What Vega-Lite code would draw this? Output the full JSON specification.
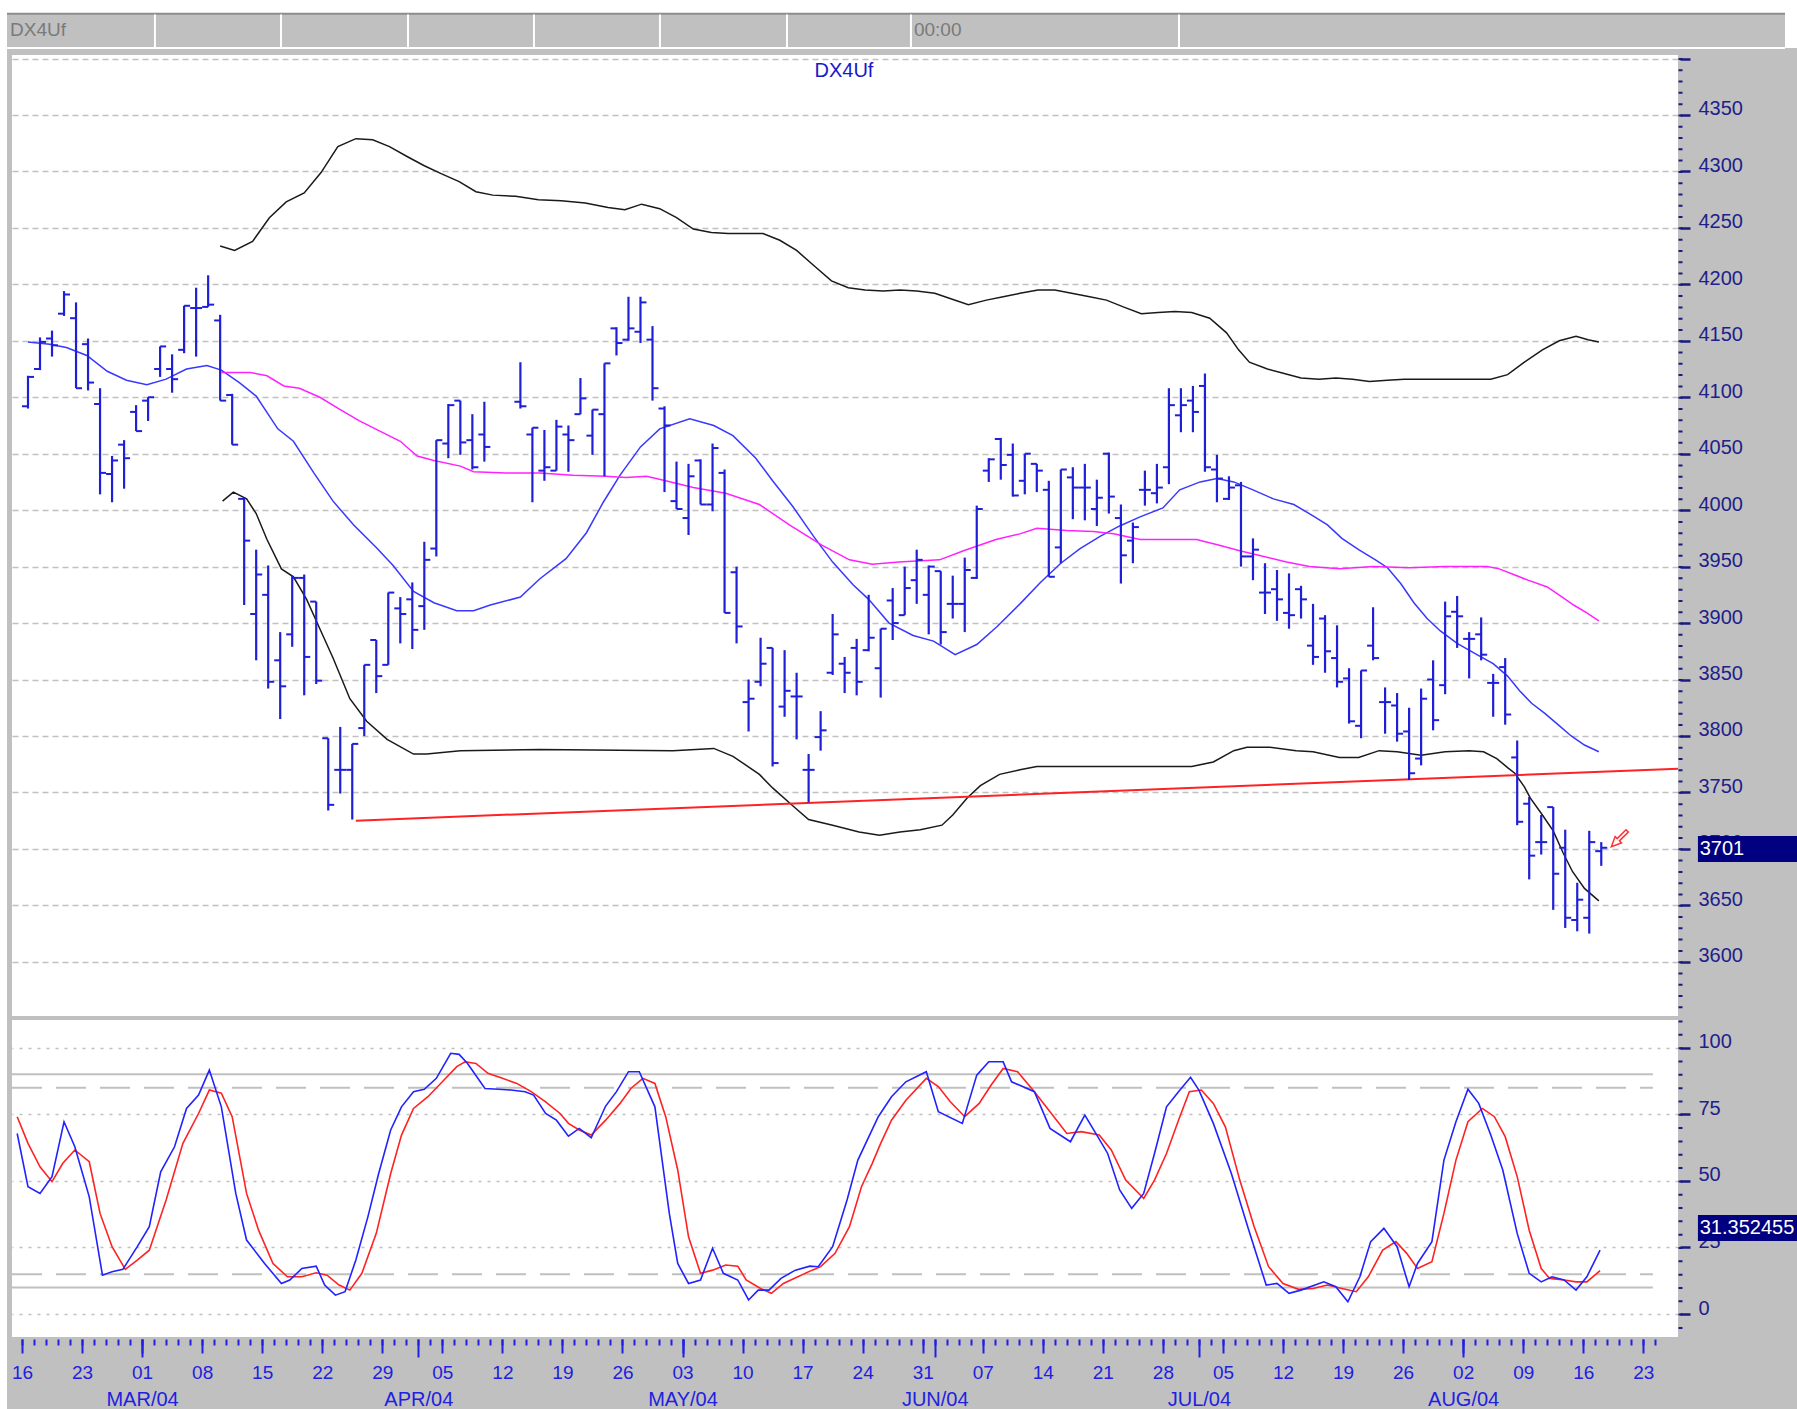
{
"$schema": "https://vega.github.io/schema/vega-lite/v6.json",
"background": "#c0c0c0",
"padding": 0,
"config": {"view": {"fill": "white", "stroke": null}, "font": "Liberation Sans"},
"datasets": {
"bars": [
{"i":0,"o":4092,"h":4119,"l":4090,"c":4118},{"i":1,"o":4125,"h":4153,"l":4124,"c":4149},{"i":2,"o":4152,"h":4159,"l":4136,"c":4146},{"i":3,"o":4174,"h":4194,"l":4172,"c":4191},{"i":4,"o":4170,"h":4184,"l":4108,"c":4108},{"i":5,"o":4147,"h":4152,"l":4106,"c":4113},{"i":6,"o":4094,"h":4108,"l":4014,"c":4033},{"i":7,"o":4032,"h":4048,"l":4007,"c":4044},{"i":8,"o":4058,"h":4062,"l":4019,"c":4046},{"i":9,"o":4087,"h":4093,"l":4070,"c":4070},
{"i":10,"o":4097,"h":4100,"l":4079,"c":4100},{"i":11,"o":4125,"h":4145,"l":4118,"c":4145},{"i":12,"o":4125,"h":4138,"l":4104,"c":4116},{"i":13,"o":4142,"h":4181,"l":4139,"c":4181},{"i":14,"o":4179,"h":4197,"l":4136,"c":4179},{"i":15,"o":4180,"h":4208,"l":4180,"c":4182},{"i":16,"o":4168,"h":4173,"l":4097,"c":4097},{"i":17,"o":4102,"h":4103,"l":4058,"c":4058},{"i":18,"o":4010,"h":4011,"l":3916,"c":3973},{"i":19,"o":3908,"h":3965,"l":3867,"c":3943},
{"i":20,"o":3925,"h":3951,"l":3842,"c":3848},{"i":21,"o":3867,"h":3892,"l":3815,"c":3844},{"i":22,"o":3890,"h":3942,"l":3879,"c":3940},{"i":23,"o":3940,"h":3943,"l":3836,"c":3870},{"i":24,"o":3919,"h":3919,"l":3846,"c":3849},{"i":25,"o":3798,"h":3798,"l":3734,"c":3739},{"i":26,"o":3770,"h":3808,"l":3749,"c":3770},{"i":27,"o":3770,"h":3793,"l":3726,"c":3793},{"i":28,"o":3807,"h":3863,"l":3800,"c":3863},{"i":29,"o":3885,"h":3885,"l":3838,"c":3853},
{"i":30,"o":3863,"h":3927,"l":3863,"c":3927},{"i":31,"o":3913,"h":3923,"l":3882,"c":3908},{"i":32,"o":3921,"h":3936,"l":3877,"c":3894},{"i":33,"o":3915,"h":3972,"l":3894,"c":3956},{"i":34,"o":3966,"h":4062,"l":3959,"c":4062},{"i":35,"o":4059,"h":4094,"l":4046,"c":4093},{"i":36,"o":4097,"h":4097,"l":4049,"c":4060},{"i":37,"o":4062,"h":4085,"l":4036,"c":4038},{"i":38,"o":4067,"h":4096,"l":4043,"c":4056},
{"i":41,"o":4096,"h":4131,"l":4090,"c":4092},{"i":42,"o":4067,"h":4073,"l":4007,"c":4073},{"i":43,"o":4035,"h":4071,"l":4026,"c":4038},{"i":44,"o":4035,"h":4080,"l":4035,"c":4074},{"i":45,"o":4067,"h":4075,"l":4034,"c":4062},{"i":46,"o":4085,"h":4117,"l":4085,"c":4099},{"i":47,"o":4066,"h":4089,"l":4049,"c":4089},{"i":48,"o":4085,"h":4130,"l":4030,"c":4130},{"i":49,"o":4161,"h":4162,"l":4137,"c":4148},
{"i":50,"o":4151,"h":4189,"l":4150,"c":4161},{"i":51,"o":4158,"h":4189,"l":4148,"c":4184},{"i":52,"o":4151,"h":4163,"l":4097,"c":4108},{"i":53,"o":4090,"h":4092,"l":4016,"c":4075},{"i":54,"o":4008,"h":4043,"l":4001,"c":4001},{"i":55,"o":3993,"h":4041,"l":3978,"c":4030},{"i":56,"o":4044,"h":4045,"l":4005,"c":4005},{"i":57,"o":4005,"h":4059,"l":3999,"c":4055},{"i":58,"o":4033,"h":4036,"l":3909,"c":3909},{"i":59,"o":3945,"h":3950,"l":3882,"c":3897},
{"i":60,"o":3830,"h":3850,"l":3804,"c":3833},{"i":61,"o":3848,"h":3887,"l":3844,"c":3864},{"i":62,"o":3878,"h":3878,"l":3773,"c":3776},{"i":63,"o":3826,"h":3876,"l":3817,"c":3840},{"i":64,"o":3835,"h":3856,"l":3797,"c":3835},{"i":65,"o":3770,"h":3784,"l":3741,"c":3770},{"i":66,"o":3799,"h":3822,"l":3787,"c":3805},{"i":67,"o":3856,"h":3908,"l":3854,"c":3890},{"i":68,"o":3864,"h":3870,"l":3838,"c":3856},{"i":69,"o":3878,"h":3886,"l":3836,"c":3848},
{"i":70,"o":3876,"h":3925,"l":3875,"c":3887},{"i":71,"o":3860,"h":3895,"l":3834,"c":3895},{"i":72,"o":3920,"h":3931,"l":3885,"c":3900},{"i":73,"o":3907,"h":3950,"l":3907,"c":3931},{"i":74,"o":3938,"h":3965,"l":3917,"c":3956},{"i":75,"o":3925,"h":3951,"l":3890,"c":3950},{"i":76,"o":3946,"h":3946,"l":3881,"c":3892},{"i":77,"o":3917,"h":3942,"l":3904,"c":3917},{"i":78,"o":3917,"h":3958,"l":3892,"c":3947},{"i":79,"o":3940,"h":4004,"l":3939,"c":4001},
{"i":80,"o":4035,"h":4046,"l":4025,"c":4045},{"i":81,"o":4063,"h":4064,"l":4027,"c":4040},{"i":82,"o":4049,"h":4059,"l":4012,"c":4013},{"i":83,"o":4026,"h":4050,"l":4014,"c":4050},{"i":84,"o":4041,"h":4041,"l":4016,"c":4035},{"i":85,"o":4018,"h":4026,"l":3941,"c":3941},{"i":86,"o":3967,"h":4036,"l":3953,"c":4036},{"i":87,"o":4029,"h":4038,"l":3992,"c":4020},{"i":88,"o":4020,"h":4041,"l":3991,"c":4020},{"i":89,"o":4001,"h":4027,"l":3986,"c":4011},
{"i":90,"o":4050,"h":4051,"l":3997,"c":4012},{"i":91,"o":3993,"h":4005,"l":3935,"c":3960},{"i":92,"o":3973,"h":3989,"l":3953,"c":3985},{"i":93,"o":4018,"h":4035,"l":4004,"c":4018},{"i":94,"o":4015,"h":4041,"l":4006,"c":4020},{"i":95,"o":4038,"h":4108,"l":4023,"c":4093},{"i":96,"o":4084,"h":4108,"l":4069,"c":4093},{"i":97,"o":4097,"h":4110,"l":4069,"c":4087},{"i":98,"o":4110,"h":4121,"l":4034,"c":4038},{"i":99,"o":4036,"h":4049,"l":4007,"c":4028},
{"i":100,"o":4010,"h":4030,"l":4009,"c":4020},{"i":101,"o":4022,"h":4025,"l":3950,"c":3959},{"i":102,"o":3959,"h":3975,"l":3938,"c":3965},{"i":103,"o":3927,"h":3953,"l":3908,"c":3927},{"i":104,"o":3930,"h":3947,"l":3902,"c":3921},{"i":105,"o":3909,"h":3944,"l":3895,"c":3907},{"i":106,"o":3930,"h":3933,"l":3904,"c":3921},{"i":107,"o":3880,"h":3917,"l":3863,"c":3870},{"i":108,"o":3904,"h":3907,"l":3856,"c":3875},{"i":109,"o":3869,"h":3898,"l":3843,"c":3848},
{"i":110,"o":3851,"h":3860,"l":3811,"c":3813},{"i":111,"o":3809,"h":3858,"l":3798,"c":3858},{"i":112,"o":3880,"h":3914,"l":3867,"c":3869},{"i":113,"o":3830,"h":3843,"l":3802,"c":3830},{"i":114,"o":3827,"h":3838,"l":3795,"c":3802},{"i":115,"o":3804,"h":3825,"l":3761,"c":3767},{"i":116,"o":3780,"h":3842,"l":3774,"c":3833},{"i":117,"o":3850,"h":3867,"l":3805,"c":3814},{"i":118,"o":3845,"h":3919,"l":3837,"c":3906},{"i":119,"o":3910,"h":3924,"l":3878,"c":3906},
{"i":120,"o":3886,"h":3892,"l":3851,"c":3886},{"i":121,"o":3890,"h":3905,"l":3867,"c":3872},{"i":122,"o":3847,"h":3855,"l":3817,"c":3847},{"i":123,"o":3861,"h":3869,"l":3810,"c":3819},{"i":124,"o":3781,"h":3796,"l":3721,"c":3724},{"i":125,"o":3740,"h":3746,"l":3673,"c":3694},{"i":126,"o":3706,"h":3730,"l":3695,"c":3706},{"i":127,"o":3737,"h":3737,"l":3646,"c":3678},{"i":128,"o":3701,"h":3717,"l":3630,"c":3639},{"i":129,"o":3637,"h":3670,"l":3627,"c":3655},
{"i":130,"o":3639,"h":3716,"l":3625,"c":3706},{"i":131,"o":3698,"h":3706,"l":3685,"c":3701}
],
"lines": [
{"s":"up","i":16.0,"v":4234},{"s":"up","i":17.2,"v":4230},{"s":"up","i":18.7,"v":4238},{"s":"up","i":20.1,"v":4259},{"s":"up","i":21.5,"v":4273},{"s":"up","i":23.0,"v":4281},{"s":"up","i":24.4,"v":4299},{"s":"up","i":25.8,"v":4322},{"s":"up","i":27.3,"v":4329},{"s":"up","i":28.7,"v":4328},{"s":"up","i":30.1,"v":4322},{"s":"up","i":31.6,"v":4313},{"s":"up","i":33.0,"v":4305},{"s":"up","i":34.4,"v":4298},{"s":"up","i":35.9,"v":4291},{"s":"up","i":37.3,"v":4282},{"s":"up","i":38.7,"v":4279},{"s":"up","i":40.6,"v":4278},{"s":"up","i":42.5,"v":4275},{"s":"up","i":44.4,"v":4274},{"s":"up","i":46.4,"v":4272},{"s":"up","i":48.3,"v":4268},{"s":"up","i":49.7,"v":4266},{"s":"up","i":51.1,"v":4271},{"s":"up","i":52.6,"v":4267},{"s":"up","i":54.0,"v":4259},{"s":"up","i":55.4,"v":4249},{"s":"up","i":56.9,"v":4246},{"s":"up","i":58.3,"v":4245},{"s":"up","i":59.7,"v":4245},{"s":"up","i":61.2,"v":4245},{"s":"up","i":62.6,"v":4239},{"s":"up","i":64.0,"v":4230},{"s":"up","i":65.5,"v":4216},{"s":"up","i":66.9,"v":4203},{"s":"up","i":68.3,"v":4197},{"s":"up","i":69.7,"v":4195},{"s":"up","i":71.2,"v":4194},{"s":"up","i":72.6,"v":4195},{"s":"up","i":74.0,"v":4194},{"s":"up","i":75.5,"v":4192},{"s":"up","i":76.9,"v":4187},{"s":"up","i":78.3,"v":4182},{"s":"up","i":79.8,"v":4186},{"s":"up","i":81.2,"v":4189},{"s":"up","i":82.6,"v":4192},{"s":"up","i":84.1,"v":4195},{"s":"up","i":85.5,"v":4195},{"s":"up","i":86.9,"v":4192},{"s":"up","i":88.4,"v":4189},{"s":"up","i":89.8,"v":4186},{"s":"up","i":91.2,"v":4180},{"s":"up","i":92.7,"v":4174},{"s":"up","i":94.1,"v":4175},{"s":"up","i":95.5,"v":4176},{"s":"up","i":96.9,"v":4175},{"s":"up","i":98.4,"v":4170},{"s":"up","i":99.8,"v":4157},{"s":"up","i":100.8,"v":4142},{"s":"up","i":101.7,"v":4131},{"s":"up","i":103.2,"v":4125},{"s":"up","i":104.6,"v":4121},{"s":"up","i":106.0,"v":4117},{"s":"up","i":107.5,"v":4116},{"s":"up","i":108.9,"v":4117},{"s":"up","i":110.3,"v":4116},{"s":"up","i":111.7,"v":4114},{"s":"up","i":113.2,"v":4115},{"s":"up","i":114.6,"v":4116},{"s":"up","i":116.0,"v":4116},{"s":"up","i":117.5,"v":4116},{"s":"up","i":118.9,"v":4116},{"s":"up","i":120.3,"v":4116},{"s":"up","i":121.8,"v":4116},{"s":"up","i":123.2,"v":4120},{"s":"up","i":124.6,"v":4131},{"s":"up","i":126.1,"v":4142},{"s":"up","i":127.5,"v":4150},{"s":"up","i":128.9,"v":4154},{"s":"up","i":129.9,"v":4151},{"s":"up","i":130.8,"v":4149},
{"s":"lo","i":16.2,"v":4008},{"s":"lo","i":17.1,"v":4016},{"s":"lo","i":18.2,"v":4010},{"s":"lo","i":19.0,"v":3997},{"s":"lo","i":19.9,"v":3974},{"s":"lo","i":21.1,"v":3948},{"s":"lo","i":22.1,"v":3941},{"s":"lo","i":23.2,"v":3921},{"s":"lo","i":24.3,"v":3895},{"s":"lo","i":25.4,"v":3869},{"s":"lo","i":26.8,"v":3833},{"s":"lo","i":28.2,"v":3813},{"s":"lo","i":29.9,"v":3797},{"s":"lo","i":32.1,"v":3784},{"s":"lo","i":33.2,"v":3784},{"s":"lo","i":36.0,"v":3787},{"s":"lo","i":42.6,"v":3788},{"s":"lo","i":53.7,"v":3787},{"s":"lo","i":57.1,"v":3789},{"s":"lo","i":58.7,"v":3782},{"s":"lo","i":60.9,"v":3766},{"s":"lo","i":62.0,"v":3754},{"s":"lo","i":63.7,"v":3738},{"s":"lo","i":65.0,"v":3726},{"s":"lo","i":67.0,"v":3721},{"s":"lo","i":69.2,"v":3715},{"s":"lo","i":70.9,"v":3712},{"s":"lo","i":72.6,"v":3715},{"s":"lo","i":74.3,"v":3717},{"s":"lo","i":76.1,"v":3721},{"s":"lo","i":77.0,"v":3730},{"s":"lo","i":78.2,"v":3745},{"s":"lo","i":79.3,"v":3756},{"s":"lo","i":80.9,"v":3766},{"s":"lo","i":82.6,"v":3770},{"s":"lo","i":84.0,"v":3773},{"s":"lo","i":96.9,"v":3773},{"s":"lo","i":98.7,"v":3777},{"s":"lo","i":100.4,"v":3787},{"s":"lo","i":101.5,"v":3790},{"s":"lo","i":103.4,"v":3790},{"s":"lo","i":105.6,"v":3787},{"s":"lo","i":107.0,"v":3786},{"s":"lo","i":109.2,"v":3781},{"s":"lo","i":110.8,"v":3781},{"s":"lo","i":112.5,"v":3787},{"s":"lo","i":114.0,"v":3786},{"s":"lo","i":116.0,"v":3783},{"s":"lo","i":118.0,"v":3786},{"s":"lo","i":120.0,"v":3787},{"s":"lo","i":121.2,"v":3786},{"s":"lo","i":122.3,"v":3780},{"s":"lo","i":123.2,"v":3772},{"s":"lo","i":123.8,"v":3767},{"s":"lo","i":124.6,"v":3755},{"s":"lo","i":125.1,"v":3745},{"s":"lo","i":126.1,"v":3730},{"s":"lo","i":127.0,"v":3716},{"s":"lo","i":127.8,"v":3697},{"s":"lo","i":128.6,"v":3680},{"s":"lo","i":129.6,"v":3665},{"s":"lo","i":130.8,"v":3654},
{"s":"ma1","i":0,"v":4149},{"s":"ma1","i":1.8,"v":4147},{"s":"ma1","i":3.2,"v":4144},{"s":"ma1","i":4.9,"v":4137},{"s":"ma1","i":6.6,"v":4123},{"s":"ma1","i":8.2,"v":4115},{"s":"ma1","i":9.9,"v":4111},{"s":"ma1","i":11.5,"v":4116},{"s":"ma1","i":13.2,"v":4125},{"s":"ma1","i":14.9,"v":4128},{"s":"ma1","i":16.1,"v":4124},{"s":"ma1","i":17.6,"v":4113},{"s":"ma1","i":19.0,"v":4101},{"s":"ma1","i":20.8,"v":4072},{"s":"ma1","i":22.1,"v":4061},{"s":"ma1","i":23.8,"v":4033},{"s":"ma1","i":25.4,"v":4008},{"s":"ma1","i":27.1,"v":3987},{"s":"ma1","i":29.0,"v":3967},{"s":"ma1","i":30.4,"v":3951},{"s":"ma1","i":32.1,"v":3928},{"s":"ma1","i":33.8,"v":3918},{"s":"ma1","i":35.7,"v":3911},{"s":"ma1","i":37.1,"v":3911},{"s":"ma1","i":38.5,"v":3916},{"s":"ma1","i":41.0,"v":3923},{"s":"ma1","i":42.6,"v":3939},{"s":"ma1","i":44.8,"v":3957},{"s":"ma1","i":46.5,"v":3980},{"s":"ma1","i":47.9,"v":4007},{"s":"ma1","i":49.3,"v":4031},{"s":"ma1","i":51.0,"v":4056},{"s":"ma1","i":52.6,"v":4072},{"s":"ma1","i":55.1,"v":4081},{"s":"ma1","i":57.1,"v":4075},{"s":"ma1","i":58.7,"v":4066},{"s":"ma1","i":60.6,"v":4046},{"s":"ma1","i":62.0,"v":4026},{"s":"ma1","i":63.7,"v":4003},{"s":"ma1","i":65.4,"v":3977},{"s":"ma1","i":67.0,"v":3954},{"s":"ma1","i":68.7,"v":3934},{"s":"ma1","i":70.0,"v":3921},{"s":"ma1","i":71.7,"v":3900},{"s":"ma1","i":73.7,"v":3889},{"s":"ma1","i":75.4,"v":3884},{"s":"ma1","i":77.2,"v":3872},{"s":"ma1","i":79.0,"v":3881},{"s":"ma1","i":80.7,"v":3897},{"s":"ma1","i":82.6,"v":3917},{"s":"ma1","i":84.3,"v":3936},{"s":"ma1","i":86.0,"v":3953},{"s":"ma1","i":87.6,"v":3966},{"s":"ma1","i":89.3,"v":3977},{"s":"ma1","i":90.9,"v":3986},{"s":"ma1","i":92.6,"v":3994},{"s":"ma1","i":94.5,"v":4002},{"s":"ma1","i":95.9,"v":4018},{"s":"ma1","i":97.6,"v":4025},{"s":"ma1","i":99.0,"v":4028},{"s":"ma1","i":100.4,"v":4025},{"s":"ma1","i":102.0,"v":4018},{"s":"ma1","i":103.7,"v":4010},{"s":"ma1","i":105.4,"v":4005},{"s":"ma1","i":107.0,"v":3995},{"s":"ma1","i":108.2,"v":3987},{"s":"ma1","i":109.4,"v":3975},{"s":"ma1","i":110.8,"v":3965},{"s":"ma1","i":112.2,"v":3956},{"s":"ma1","i":113.2,"v":3949},{"s":"ma1","i":114.3,"v":3935},{"s":"ma1","i":115.4,"v":3918},{"s":"ma1","i":116.5,"v":3904},{"s":"ma1","i":117.6,"v":3893},{"s":"ma1","i":119.0,"v":3882},{"s":"ma1","i":120.5,"v":3873},{"s":"ma1","i":122.0,"v":3864},{"s":"ma1","i":123.2,"v":3853},{"s":"ma1","i":124.2,"v":3840},{"s":"ma1","i":125.2,"v":3829},{"s":"ma1","i":126.3,"v":3820},{"s":"ma1","i":127.4,"v":3810},{"s":"ma1","i":128.5,"v":3800},{"s":"ma1","i":129.6,"v":3792},{"s":"ma1","i":130.8,"v":3786},
{"s":"ma2","i":16.1,"v":4122},{"s":"ma2","i":18.5,"v":4122},{"s":"ma2","i":19.9,"v":4119},{"s":"ma2","i":21.3,"v":4110},{"s":"ma2","i":22.6,"v":4108},{"s":"ma2","i":24.3,"v":4100},{"s":"ma2","i":26.0,"v":4089},{"s":"ma2","i":27.6,"v":4079},{"s":"ma2","i":29.3,"v":4070},{"s":"ma2","i":31.0,"v":4061},{"s":"ma2","i":32.4,"v":4048},{"s":"ma2","i":33.8,"v":4044},{"s":"ma2","i":36.0,"v":4039},{"s":"ma2","i":37.1,"v":4034},{"s":"ma2","i":39.8,"v":4033},{"s":"ma2","i":42.6,"v":4033},{"s":"ma2","i":45.4,"v":4031},{"s":"ma2","i":48.1,"v":4030},{"s":"ma2","i":49.8,"v":4029},{"s":"ma2","i":51.5,"v":4030},{"s":"ma2","i":53.1,"v":4026},{"s":"ma2","i":55.4,"v":4020},{"s":"ma2","i":58.1,"v":4015},{"s":"ma2","i":60.9,"v":4005},{"s":"ma2","i":63.4,"v":3987},{"s":"ma2","i":66.1,"v":3969},{"s":"ma2","i":68.4,"v":3956},{"s":"ma2","i":70.3,"v":3952},{"s":"ma2","i":72.5,"v":3954},{"s":"ma2","i":75.9,"v":3956},{"s":"ma2","i":77.9,"v":3964},{"s":"ma2","i":80.6,"v":3974},{"s":"ma2","i":82.6,"v":3979},{"s":"ma2","i":84.0,"v":3984},{"s":"ma2","i":86.5,"v":3982},{"s":"ma2","i":88.7,"v":3981},{"s":"ma2","i":90.4,"v":3979},{"s":"ma2","i":92.6,"v":3974},{"s":"ma2","i":94.8,"v":3974},{"s":"ma2","i":97.3,"v":3974},{"s":"ma2","i":99.2,"v":3969},{"s":"ma2","i":100.9,"v":3964},{"s":"ma2","i":102.9,"v":3959},{"s":"ma2","i":104.8,"v":3954},{"s":"ma2","i":106.7,"v":3950},{"s":"ma2","i":109.2,"v":3948},{"s":"ma2","i":112.0,"v":3950},{"s":"ma2","i":115.0,"v":3949},{"s":"ma2","i":118.0,"v":3950},{"s":"ma2","i":121.5,"v":3950},{"s":"ma2","i":122.5,"v":3948},{"s":"ma2","i":123.7,"v":3943},{"s":"ma2","i":124.9,"v":3938},{"s":"ma2","i":126.5,"v":3932},{"s":"ma2","i":127.6,"v":3924},{"s":"ma2","i":128.7,"v":3916},{"s":"ma2","i":129.8,"v":3909},{"s":"ma2","i":130.8,"v":3902},
{"s":"tr","i":27.3,"v":3725},{"s":"tr","i":137.39,"v":3771}
],
"k": [
{"i":-0.9,"v":67.8},{"i":0.0,"v":47.8},{"i":1.0,"v":45.3},{"i":2.0,"v":51.6},{"i":3.0,"v":72.2},{"i":3.9,"v":62.8},{"i":5.1,"v":44.0},{"i":6.2,"v":14.6},{"i":7.0,"v":15.9},{"i":7.9,"v":16.8},{"i":9.1,"v":25.3},{"i":10.1,"v":32.8},{"i":11.05,"v":53.4},{"i":12.2,"v":62.8},{"i":13.2,"v":77.2},{"i":14.2,"v":82.2},{"i":15.1,"v":91.6},{"i":16.1,"v":77.8},{"i":17.3,"v":45.3},{"i":18.2,"v":27.8},{"i":19.7,"v":19.0},{"i":21.1,"v":11.5},{"i":21.8,"v":12.8},{"i":22.8,"v":17.1},{"i":24.0,"v":18.0},{"i":24.7,"v":10.9},{"i":25.6,"v":7.1},{"i":26.4,"v":8.4},{"i":27.3,"v":20.3},{"i":28.3,"v":36.5},{"i":29.2,"v":52.8},{"i":30.2,"v":69.1},{"i":31.1,"v":77.8},{"i":32.1,"v":83.5},{"i":33.0,"v":84.4},{"i":34.0,"v":88.5},{"i":35.2,"v":97.9},{"i":35.9,"v":97.5},{"i":36.6,"v":94.1},{"i":38.05,"v":84.7},{"i":39.2,"v":84.4},{"i":40.2,"v":84.1},{"i":41.4,"v":83.5},{"i":42.1,"v":82.2},{"i":43.1,"v":75.3},{"i":44.0,"v":72.8},{"i":45.0,"v":66.8},{"i":45.9,"v":69.7},{"i":46.9,"v":66.2},{"i":48.1,"v":78.1},{"i":49.0,"v":83.5},{"i":50.0,"v":91.0},{"i":50.9,"v":91.0},{"i":52.2,"v":77.8},{"i":53.4,"v":37.8},{"i":54.1,"v":19.0},{"i":55.0,"v":11.5},{"i":56.0,"v":12.8},{"i":57.0,"v":24.7},{"i":57.9,"v":15.3},{"i":59.1,"v":12.8},{"i":60.0,"v":5.3},{"i":60.8,"v":9.0},{"i":61.7,"v":9.0},{"i":62.7,"v":13.4},{"i":63.9,"v":16.5},{"i":65.1,"v":18.0},{"i":65.8,"v":17.8},{"i":67.0,"v":25.3},{"i":68.2,"v":42.8},{"i":69.1,"v":57.8},{"i":70.8,"v":74.1},{"i":71.9,"v":81.6},{"i":73.1,"v":87.2},{"i":74.8,"v":91.0},{"i":75.8,"v":76.0},{"i":77.8,"v":71.6},{"i":79.0,"v":89.7},{"i":80.0,"v":94.7},{"i":81.2,"v":94.7},{"i":81.9,"v":87.2},{"i":83.8,"v":83.5},{"i":85.1,"v":69.7},{"i":86.8,"v":64.7},{"i":88.0,"v":74.7},{"i":89.0,"v":67.2},{"i":89.9,"v":60.3},{"i":90.9,"v":46.6},{"i":91.9,"v":39.7},{"i":92.9,"v":45.3},{"i":93.8,"v":60.3},{"i":94.8,"v":77.8},{"i":95.8,"v":83.5},{"i":96.8,"v":88.9},{"i":97.5,"v":84.1},{"i":98.7,"v":71.6},{"i":100.2,"v":52.8},{"i":101.6,"v":32.2},{"i":103.1,"v":10.9},{"i":104.0,"v":11.5},{"i":105.0,"v":7.8},{"i":106.0,"v":9.0},{"i":107.9,"v":12.1},{"i":108.9,"v":10.3},{"i":109.9,"v":4.6},{"i":110.9,"v":14.0},{"i":111.8,"v":27.2},{"i":112.9,"v":32.2},{"i":114.0,"v":25.3},{"i":115.0,"v":10.3},{"i":115.7,"v":19.0},{"i":116.9,"v":27.2},{"i":117.9,"v":57.8},{"i":118.9,"v":72.2},{"i":119.9,"v":84.4},{"i":120.8,"v":79.1},{"i":121.8,"v":67.2},{"i":122.8,"v":54.1},{"i":124.0,"v":30.3},{"i":125.0,"v":15.3},{"i":126.0,"v":12.1},{"i":126.9,"v":14.0},{"i":127.9,"v":12.8},{"i":128.9,"v":9.0},{"i":129.8,"v":14.0},{"i":130.9,"v":24.0}
],
"d": [
{"i":-0.9,"v":74.1},{"i":0.0,"v":64.1},{"i":1.0,"v":55.3},{"i":2.0,"v":49.7},{"i":2.9,"v":56.6},{"i":3.9,"v":61.6},{"i":5.1,"v":57.2},{"i":6.0,"v":37.8},{"i":7.0,"v":25.3},{"i":8.1,"v":16.8},{"i":9.1,"v":20.3},{"i":10.1,"v":24.0},{"i":11.5,"v":42.8},{"i":12.9,"v":64.1},{"i":14.2,"v":75.3},{"i":15.1,"v":84.1},{"i":16.1,"v":82.9},{"i":17.0,"v":74.1},{"i":18.2,"v":45.3},{"i":19.2,"v":31.5},{"i":20.4,"v":19.0},{"i":21.6,"v":14.0},{"i":22.8,"v":14.0},{"i":24.0,"v":15.5},{"i":24.9,"v":14.6},{"i":25.9,"v":10.9},{"i":26.8,"v":9.0},{"i":27.8,"v":15.3},{"i":29.0,"v":30.3},{"i":30.2,"v":52.8},{"i":31.1,"v":67.2},{"i":32.1,"v":77.2},{"i":33.3,"v":81.6},{"i":34.5,"v":87.2},{"i":35.7,"v":92.9},{"i":36.4,"v":94.7},{"i":37.3,"v":94.1},{"i":38.3,"v":90.4},{"i":39.5,"v":88.5},{"i":40.7,"v":86.6},{"i":41.9,"v":83.5},{"i":43.1,"v":79.7},{"i":44.3,"v":75.3},{"i":45.0,"v":71.6},{"i":45.9,"v":69.1},{"i":46.9,"v":67.2},{"i":48.1,"v":72.8},{"i":49.3,"v":79.1},{"i":50.2,"v":84.7},{"i":51.2,"v":88.5},{"i":52.2,"v":86.6},{"i":53.1,"v":74.1},{"i":54.1,"v":54.1},{"i":55.0,"v":29.0},{"i":56.0,"v":15.3},{"i":57.0,"v":16.5},{"i":58.1,"v":18.4},{"i":59.1,"v":18.0},{"i":59.8,"v":12.8},{"i":61.0,"v":9.6},{"i":61.9,"v":7.8},{"i":62.9,"v":11.5},{"i":64.1,"v":14.0},{"i":65.3,"v":16.5},{"i":66.0,"v":17.8},{"i":67.2,"v":22.8},{"i":68.4,"v":32.8},{"i":69.4,"v":47.8},{"i":70.3,"v":56.6},{"i":71.0,"v":64.1},{"i":71.9,"v":72.8},{"i":73.1,"v":80.3},{"i":74.8,"v":88.5},{"i":75.8,"v":85.4},{"i":76.8,"v":79.7},{"i":78.0,"v":74.1},{"i":79.2,"v":79.1},{"i":80.2,"v":86.0},{"i":81.2,"v":92.2},{"i":82.4,"v":91.0},{"i":83.8,"v":83.5},{"i":85.1,"v":76.0},{"i":86.5,"v":67.8},{"i":87.7,"v":68.5},{"i":89.2,"v":67.2},{"i":90.2,"v":61.6},{"i":91.4,"v":50.3},{"i":92.9,"v":43.4},{"i":93.8,"v":50.3},{"i":94.8,"v":60.3},{"i":95.8,"v":72.8},{"i":96.7,"v":83.5},{"i":97.7,"v":84.1},{"i":98.7,"v":79.1},{"i":99.7,"v":70.3},{"i":100.9,"v":50.3},{"i":102.1,"v":32.8},{"i":103.3,"v":17.8},{"i":104.5,"v":11.5},{"i":105.8,"v":9.3},{"i":107.0,"v":9.6},{"i":108.2,"v":10.9},{"i":109.4,"v":9.6},{"i":110.6,"v":8.4},{"i":111.6,"v":14.0},{"i":112.8,"v":24.0},{"i":113.9,"v":27.2},{"i":114.8,"v":22.8},{"i":115.7,"v":17.1},{"i":116.9,"v":19.7},{"i":117.9,"v":37.8},{"i":118.9,"v":57.8},{"i":119.9,"v":72.2},{"i":121.1,"v":77.2},{"i":122.1,"v":74.1},{"i":123.0,"v":66.6},{"i":124.0,"v":51.6},{"i":125.0,"v":31.5},{"i":126.0,"v":17.1},{"i":126.7,"v":13.4},{"i":127.9,"v":12.8},{"i":128.9,"v":12.1},{"i":129.8,"v":12.1},{"i":130.9,"v":16.3}
]
},
"vconcat": [
{
"width": 1666, "height": 961,
"layer": [
{"data": {"values": [{}]}, "mark": {"type": "rect", "color": "white"},
 "encoding": {"x": {"datum": -2.331, "type": "quantitative", "scale": {"domain": [-1.332, 137.39], "nice": false, "zero": false}, "axis": null}, "x2": {"datum": 147.6},
  "y": {"datum": 4451.8, "type": "quantitative", "scale": {"domain": [3552.0, 4403.1], "nice": false, "zero": false}, "axis": null}, "y2": {"datum": 4440.3}}},
{"data": {"values": [{}]}, "mark": {"type": "rect", "color": "white"},
 "encoding": {"x": {"datum": 146.3, "type": "quantitative", "scale": {"domain": [-1.332, 137.39], "nice": false, "zero": false}, "axis": null}, "x2": {"datum": 147.6},
  "y": {"datum": 4451.8, "type": "quantitative", "scale": {"domain": [3552.0, 4403.1], "nice": false, "zero": false}, "axis": null}, "y2": {"datum": 4409.3}}},
{"data": {"values": [{}]}, "mark": {"type": "rect", "color": "white"},
 "encoding": {"x": {"datum": -2.331, "type": "quantitative", "scale": {"domain": [-1.332, 137.39], "nice": false, "zero": false}, "axis": null}, "x2": {"datum": -1.749},
  "y": {"datum": 4451.8, "type": "quantitative", "scale": {"domain": [3552.0, 4403.1], "nice": false, "zero": false}, "axis": null}, "y2": {"datum": 3203.8}}},
{"data": {"values": [{}]}, "mark": {"type": "rule", "color": "#8c8c8c", "strokeWidth": 2},
 "encoding": {"x": {"datum": -1.749, "type": "quantitative", "scale": {"domain": [-1.332, 137.39], "nice": false, "zero": false}, "axis": null}, "x2": {"datum": 146.3},
  "y": {"datum": 4439.6, "type": "quantitative", "scale": {"domain": [3552.0, 4403.1], "nice": false, "zero": false}, "axis": null}}},
{"data": {"values": [{}]}, "mark": {"type": "rule", "color": "white", "strokeWidth": 2},
 "encoding": {"x": {"datum": -1.749, "type": "quantitative", "scale": {"domain": [-1.332, 137.39], "nice": false, "zero": false}, "axis": null}, "x2": {"datum": 146.3},
  "y": {"datum": 4409.3, "type": "quantitative", "scale": {"domain": [3552.0, 4403.1], "nice": false, "zero": false}, "axis": null}}},
{"data": {"values": [{}]}, "mark": {"type": "rule", "color": "white", "strokeWidth": 2},
 "encoding": {"x": {"datum": 10.57, "type": "quantitative", "scale": {"domain": [-1.332, 137.39], "nice": false, "zero": false}, "axis": null},
  "y": {"datum": 4439.0, "type": "quantitative", "scale": {"domain": [3552.0, 4403.1], "nice": false, "zero": false}, "axis": null}, "y2": {"datum": 4410.2}}},
{"data": {"values": [{}]}, "mark": {"type": "rule", "color": "white", "strokeWidth": 2},
 "encoding": {"x": {"datum": 21.07, "type": "quantitative", "scale": {"domain": [-1.332, 137.39], "nice": false, "zero": false}, "axis": null},
  "y": {"datum": 4439.0, "type": "quantitative", "scale": {"domain": [3552.0, 4403.1], "nice": false, "zero": false}, "axis": null}, "y2": {"datum": 4410.2}}},
{"data": {"values": [{}]}, "mark": {"type": "rule", "color": "white", "strokeWidth": 2},
 "encoding": {"x": {"datum": 31.64, "type": "quantitative", "scale": {"domain": [-1.332, 137.39], "nice": false, "zero": false}, "axis": null},
  "y": {"datum": 4439.0, "type": "quantitative", "scale": {"domain": [3552.0, 4403.1], "nice": false, "zero": false}, "axis": null}, "y2": {"datum": 4410.2}}},
{"data": {"values": [{}]}, "mark": {"type": "rule", "color": "white", "strokeWidth": 2},
 "encoding": {"x": {"datum": 42.13, "type": "quantitative", "scale": {"domain": [-1.332, 137.39], "nice": false, "zero": false}, "axis": null},
  "y": {"datum": 4439.0, "type": "quantitative", "scale": {"domain": [3552.0, 4403.1], "nice": false, "zero": false}, "axis": null}, "y2": {"datum": 4410.2}}},
{"data": {"values": [{}]}, "mark": {"type": "rule", "color": "white", "strokeWidth": 2},
 "encoding": {"x": {"datum": 52.62, "type": "quantitative", "scale": {"domain": [-1.332, 137.39], "nice": false, "zero": false}, "axis": null},
  "y": {"datum": 4439.0, "type": "quantitative", "scale": {"domain": [3552.0, 4403.1], "nice": false, "zero": false}, "axis": null}, "y2": {"datum": 4410.2}}},
{"data": {"values": [{}]}, "mark": {"type": "rule", "color": "white", "strokeWidth": 2},
 "encoding": {"x": {"datum": 63.2, "type": "quantitative", "scale": {"domain": [-1.332, 137.39], "nice": false, "zero": false}, "axis": null},
  "y": {"datum": 4439.0, "type": "quantitative", "scale": {"domain": [3552.0, 4403.1], "nice": false, "zero": false}, "axis": null}, "y2": {"datum": 4410.2}}},
{"data": {"values": [{}]}, "mark": {"type": "rule", "color": "white", "strokeWidth": 2},
 "encoding": {"x": {"datum": 73.52, "type": "quantitative", "scale": {"domain": [-1.332, 137.39], "nice": false, "zero": false}, "axis": null},
  "y": {"datum": 4439.0, "type": "quantitative", "scale": {"domain": [3552.0, 4403.1], "nice": false, "zero": false}, "axis": null}, "y2": {"datum": 4410.2}}},
{"data": {"values": [{}]}, "mark": {"type": "rule", "color": "white", "strokeWidth": 2},
 "encoding": {"x": {"datum": 95.84, "type": "quantitative", "scale": {"domain": [-1.332, 137.39], "nice": false, "zero": false}, "axis": null},
  "y": {"datum": 4439.0, "type": "quantitative", "scale": {"domain": [3552.0, 4403.1], "nice": false, "zero": false}, "axis": null}, "y2": {"datum": 4410.2}}},
{"data": {"values": [{}]}, "mark": {"type": "text", "text": "DX4Uf", "align": "left", "baseline": "middle", "font": "Liberation Sans", "fontSize": 19, "color": "#7a7a7a"},
 "encoding": {"x": {"datum": -1.499, "type": "quantitative", "scale": {"domain": [-1.332, 137.39], "nice": false, "zero": false}, "axis": null},
  "y": {"datum": 4425.2, "type": "quantitative", "scale": {"domain": [3552.0, 4403.1], "nice": false, "zero": false}, "axis": null}}},
{"data": {"values": [{}]}, "mark": {"type": "text", "text": "00:00", "align": "left", "baseline": "middle", "font": "Liberation Sans", "fontSize": 19, "color": "#7a7a7a"},
 "encoding": {"x": {"datum": 73.77, "type": "quantitative", "scale": {"domain": [-1.332, 137.39], "nice": false, "zero": false}, "axis": null},
  "y": {"datum": 4425.2, "type": "quantitative", "scale": {"domain": [3552.0, 4403.1], "nice": false, "zero": false}, "axis": null}}},
{"data": {"name": "lines"}, "transform": [{"filter": "datum.s != 'tr'"}],
 "mark": {"type": "line", "strokeWidth": 1.5},
 "encoding": {"x": {"field": "i", "type": "quantitative", "scale": {"domain": [-1.332, 137.39], "nice": false, "zero": false}, "axis": null},
  "y": {"field": "v", "type": "quantitative", "scale": {"domain": [3552.0, 4403.1], "nice": false, "zero": false}, "axis": null},
  "detail": {"field": "s"},
  "color": {"field": "s", "type": "nominal", "scale": {"domain": ["up", "lo", "ma1", "ma2"], "range": ["#1a1a1a", "#1a1a1a", "#3838ff", "#ff22ff"]}, "legend": null}}},
{"data": {"name": "lines"}, "transform": [{"filter": "datum.s == 'tr'"}],
 "mark": {"type": "line", "strokeWidth": 2, "color": "#ff2222"},
 "encoding": {"x": {"field": "i", "type": "quantitative", "scale": {"domain": [-1.332, 137.39], "nice": false, "zero": false}, "axis": null},
  "y": {"field": "v", "type": "quantitative", "scale": {"domain": [3552.0, 4403.1], "nice": false, "zero": false}, "axis": null}}},
{"data": {"name": "bars"}, "mark": {"type": "rule", "color": "#1f1fd8", "strokeWidth": 2.2},
 "encoding": {"x": {"field": "i", "type": "quantitative", "scale": {"domain": [-1.332, 137.39], "nice": false, "zero": false}, "axis": null},
  "y": {"field": "l", "type": "quantitative", "scale": {"domain": [3552.0, 4403.1], "nice": false, "zero": false},
   "axis": {"orient": "right", "values": [3600,3650,3700,3750,3800,3850,3900,3950,4000,4050,4100,4150,4200,4250,4300,4350,4400], "format": "d", "labelExpr": "datum.value >= 4400 ? '' : datum.label",
    "grid": true, "gridColor": "#c0c0c0", "gridDash": [6, 4], "gridWidth": 1.5,
    "domain": true, "domainColor": "#1a1a80", "domainWidth": 4, "domainDash": [2, 9.29], "domainDashOffset": 3.15, "offset": 2,
    "ticks": true, "tickSize": 10, "tickWidth": 2.5, "tickColor": "#1a1a80",
    "labelFont": "Liberation Sans", "labelFontSize": 20, "labelColor": "#20208a", "labelPadding": 8, "labelBaseline": "alphabetic", "labelAlign": "left", "labelFlush": false, "labelOverlap": false, "title": null}},
  "y2": {"field": "h"}}},
{"data": {"name": "bars"}, "mark": {"type": "rule", "color": "#1f1fd8", "strokeWidth": 2, "xOffset": -6},
 "encoding": {"x": {"field": "i", "type": "quantitative", "scale": {"domain": [-1.332, 137.39], "nice": false, "zero": false}, "axis": null}, "x2": {"field": "i"},
  "y": {"field": "o", "type": "quantitative", "scale": {"domain": [3552.0, 4403.1], "nice": false, "zero": false}, "axis": null}}},
{"data": {"name": "bars"}, "mark": {"type": "rule", "color": "#1f1fd8", "strokeWidth": 2, "x2Offset": 6},
 "encoding": {"x": {"field": "i", "type": "quantitative", "scale": {"domain": [-1.332, 137.39], "nice": false, "zero": false}, "axis": null}, "x2": {"field": "i"},
  "y": {"field": "c", "type": "quantitative", "scale": {"domain": [3552.0, 4403.1], "nice": false, "zero": false}, "axis": null}}},
{"data": {"values": [{}]}, "mark": {"type": "text", "text": "DX4Uf", "align": "center", "baseline": "middle", "font": "Liberation Sans", "fontSize": 20, "color": "#1818cc"},
 "encoding": {"x": {"datum": 67.94, "type": "quantitative", "scale": {"domain": [-1.332, 137.39], "nice": false, "zero": false}, "axis": null},
  "y": {"datum": 4389.0, "type": "quantitative", "scale": {"domain": [3552.0, 4403.1], "nice": false, "zero": false}, "axis": null}}},
{"data": {"values": [{}]}, "mark": {"type": "point", "shape": "arrow", "filled": false, "color": "#ff3030", "strokeWidth": 1.5, "size": 500, "angle": 225, "opacity": 1},
 "encoding": {"x": {"datum": 132.5, "type": "quantitative", "scale": {"domain": [-1.332, 137.39], "nice": false, "zero": false}, "axis": null},
  "y": {"datum": 3709, "type": "quantitative", "scale": {"domain": [3552.0, 4403.1], "nice": false, "zero": false}, "axis": null}}},
{"data": {"values": [{}]}, "mark": {"type": "rect", "color": "#000080"},
 "encoding": {"x": {"datum": 139.05, "type": "quantitative", "scale": {"domain": [-1.332, 137.39], "nice": false, "zero": false}, "axis": null}, "x2": {"datum": 147.6},
  "y": {"datum": 3711.4, "type": "quantitative", "scale": {"domain": [3552.0, 4403.1], "nice": false, "zero": false}, "axis": null}, "y2": {"datum": 3688.3}}},
{"data": {"values": [{}]}, "mark": {"type": "text", "text": "3701", "align": "left", "baseline": "middle", "font": "Liberation Sans", "fontSize": 20, "color": "white"},
 "encoding": {"x": {"datum": 139.2, "type": "quantitative", "scale": {"domain": [-1.332, 137.39], "nice": false, "zero": false}, "axis": null},
  "y": {"datum": 3699.9, "type": "quantitative", "scale": {"domain": [3552.0, 4403.1], "nice": false, "zero": false}, "axis": null}}}
],
"resolve": {"axis": {"x": "independent", "y": "independent"}}
},
{
"width": 1666, "height": 317,
"layer": [
{"data": {"values": [{}]}, "mark": {"type": "rule", "color": "#c0c0c0", "strokeWidth": 2},
 "encoding": {"x": {"datum": -1.332, "type": "quantitative", "scale": {"domain": [-1.332, 137.39], "nice": false, "zero": false},
   "axis": {"orient": "bottom", "values": [9.5, 32.5, 54.5, 75.5, 97.5, 119.5], "labelExpr": "['MAR/04','APR/04','MAY/04','JUN/04','JUL/04','AUG/04'][indexof([9.5,32.5,54.5,75.5,97.5,119.5], datum.value)]",
    "offset": 2, "domain": false, "grid": false, "ticks": true, "tickSize": 18, "tickWidth": 2, "tickColor": "#2020e0",
    "labelFont": "Liberation Sans", "labelFontSize": 20, "labelColor": "#2020e0", "labelPadding": 32, "labelBaseline": "top", "labelAlign": "center", "labelFlush": false, "labelOverlap": false, "title": null}},
  "x2": {"datum": 135.3},
  "y": {"datum": 90, "type": "quantitative", "scale": {"domain": [-8.6, 110.4], "nice": false, "zero": false}, "axis": null}}},
{"data": {"values": [{}]}, "mark": {"type": "rule", "color": "#c0c0c0", "strokeWidth": 2},
 "encoding": {"x": {"datum": -1.332, "type": "quantitative", "scale": {"domain": [-1.332, 137.39], "nice": false, "zero": false}, "axis": null}, "x2": {"datum": 135.3},
  "y": {"datum": 10, "type": "quantitative", "scale": {"domain": [-8.6, 110.4], "nice": false, "zero": false}, "axis": null}}},
{"data": {"values": [{}]}, "mark": {"type": "rule", "color": "#c0c0c0", "strokeWidth": 2, "strokeDash": [30, 14]},
 "encoding": {"x": {"datum": -1.332, "type": "quantitative", "scale": {"domain": [-1.332, 137.39], "nice": false, "zero": false}, "axis": null}, "x2": {"datum": 135.3},
  "y": {"datum": 85, "type": "quantitative", "scale": {"domain": [-8.6, 110.4], "nice": false, "zero": false}, "axis": null}}},
{"data": {"values": [{}]}, "mark": {"type": "rule", "color": "#c0c0c0", "strokeWidth": 2, "strokeDash": [30, 14]},
 "encoding": {"x": {"datum": -1.332, "type": "quantitative", "scale": {"domain": [-1.332, 137.39], "nice": false, "zero": false}, "axis": null}, "x2": {"datum": 135.3},
  "y": {"datum": 15, "type": "quantitative", "scale": {"domain": [-8.6, 110.4], "nice": false, "zero": false}, "axis": null}}},
{"data": {"name": "d"}, "mark": {"type": "line", "color": "#ff2222", "strokeWidth": 1.6},
 "encoding": {"x": {"field": "i", "type": "quantitative", "scale": {"domain": [-1.332, 137.39], "nice": false, "zero": false},
   "axis": {"orient": "bottom", "values": [-0.5,0.5,1.5,2.5,3.5,4.5,5.5,6.5,7.5,8.5,9.5,10.5,11.5,12.5,13.5,14.5,15.5,16.5,17.5,18.5,19.5,20.5,21.5,22.5,23.5,24.5,25.5,26.5,27.5,28.5,29.5,30.5,31.5,32.5,33.5,34.5,35.5,36.5,37.5,38.5,39.5,40.5,41.5,42.5,43.5,44.5,45.5,46.5,47.5,48.5,49.5,50.5,51.5,52.5,53.5,54.5,55.5,56.5,57.5,58.5,59.5,60.5,61.5,62.5,63.5,64.5,65.5,66.5,67.5,68.5,69.5,70.5,71.5,72.5,73.5,74.5,75.5,76.5,77.5,78.5,79.5,80.5,81.5,82.5,83.5,84.5,85.5,86.5,87.5,88.5,89.5,90.5,91.5,92.5,93.5,94.5,95.5,96.5,97.5,98.5,99.5,100.5,101.5,102.5,103.5,104.5,105.5,106.5,107.5,108.5,109.5,110.5,111.5,112.5,113.5,114.5,115.5,116.5,117.5,118.5,119.5,120.5,121.5,122.5,123.5,124.5,125.5,126.5,127.5,128.5,129.5,130.5,131.5,132.5,133.5,134.5,135.5],
    "labels": false, "offset": 2, "domain": false, "grid": false, "ticks": true, "tickSize": 6, "tickWidth": 2, "tickColor": "#2020e0", "title": null}},
  "y": {"field": "v", "type": "quantitative", "scale": {"domain": [-8.6, 110.4], "nice": false, "zero": false}, "axis": null}}},
{"data": {"name": "k"}, "mark": {"type": "line", "color": "#2222ff", "strokeWidth": 1.6},
 "encoding": {"x": {"field": "i", "type": "quantitative", "scale": {"domain": [-1.332, 137.39], "nice": false, "zero": false},
   "axis": {"orient": "bottom", "values": [-0.5,4.5,9.5,14.5,19.5,24.5,29.5,34.5,39.5,44.5,49.5,54.5,59.5,64.5,69.5,74.5,79.5,84.5,89.5,94.5,99.5,104.5,109.5,114.5,119.5,124.5,129.5,134.5],
    "labelExpr": "['16','23','01','08','15','22','29','05','12','19','26','03','10','17','24','31','07','14','21','28','05','12','19','26','02','09','16','23'][round((datum.value+0.5)/5)]",
    "offset": 2, "domain": false, "grid": false, "ticks": true, "tickSize": 14, "tickWidth": 2, "tickColor": "#2020e0",
    "labelFont": "Liberation Sans", "labelFontSize": 19, "labelColor": "#2020e0", "labelPadding": 10.6, "labelBaseline": "top", "labelAlign": "center", "labelFlush": false, "labelOverlap": false, "title": null}},
  "y": {"field": "v", "type": "quantitative", "scale": {"domain": [-8.6, 110.4], "nice": false, "zero": false},
   "axis": {"orient": "right", "values": [0, 25, 50, 75, 100], "format": "d",
    "grid": true, "gridColor": "#c0c0c0", "gridDash": [3, 6], "gridWidth": 1.5,
    "domain": true, "domainColor": "#1a1a80", "domainWidth": 4, "domainDash": [2, 11.32], "domainDashOffset": 4.73, "offset": 2,
    "ticks": true, "tickSize": 10, "tickWidth": 2.5, "tickColor": "#1a1a80",
    "labelFont": "Liberation Sans", "labelFontSize": 20, "labelColor": "#20208a", "labelPadding": 8, "labelBaseline": "alphabetic", "labelAlign": "left", "labelFlush": false, "labelOverlap": false, "title": null}}}},
{"data": {"values": [{}]}, "mark": {"type": "rect", "color": "#000080"},
 "encoding": {"x": {"datum": 139.05, "type": "quantitative", "scale": {"domain": [-1.332, 137.39], "nice": false, "zero": false}, "axis": null}, "x2": {"datum": 147.6},
  "y": {"datum": 37.2, "type": "quantitative", "scale": {"domain": [-8.6, 110.4], "nice": false, "zero": false}, "axis": null}, "y2": {"datum": 27.4}}},
{"data": {"values": [{}]}, "mark": {"type": "text", "text": "31.352455", "align": "left", "baseline": "middle", "font": "Liberation Sans", "fontSize": 20, "color": "white"},
 "encoding": {"x": {"datum": 139.2, "type": "quantitative", "scale": {"domain": [-1.332, 137.39], "nice": false, "zero": false}, "axis": null},
  "y": {"datum": 32.3, "type": "quantitative", "scale": {"domain": [-8.6, 110.4], "nice": false, "zero": false}, "axis": null}}}
],
"resolve": {"axis": {"x": "independent", "y": "independent"}}
}
],
"spacing": 4,
"bounds": "flush"
}
